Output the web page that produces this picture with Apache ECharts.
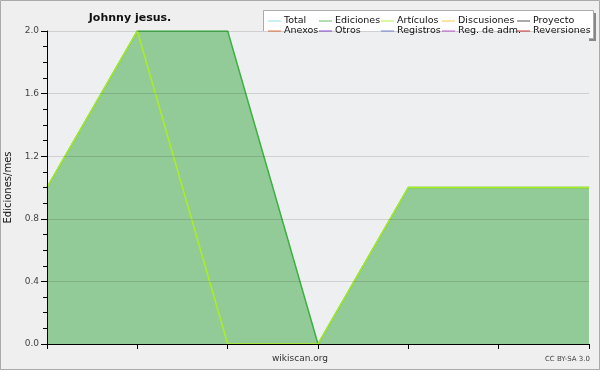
<!DOCTYPE html>
<html><head><meta charset="utf-8">
<script src="https://cdn.jsdelivr.net/npm/echarts@6/dist/echarts.min.js"></script>
<style>html,body{margin:0;padding:0;background:#efefef}#c{width:600px;height:370px}</style>
</head><body><div id="c"></div>
<script>
var categories = ['1','2','3','4','5','6','7'];
var ediciones = [1, 2, 2, 0, 1, 1, 1];
var articulos = [1, 2, 0, 0, 1, 1, 1];
var yTicks = [0, 0.4, 0.8, 1.2, 1.6, 2.0];
var legendNames = ['Total','Ediciones','Artículos','Discusiones','Proyecto','Anexos','Otros','Registros','Reg. de adm.','Reversiones'];
var legendColors = ['#99dddd','#66bb66','#bbee44','#f5cc55','#555555','#ee7744','#8844dd','#7788ee','#cc55dd','#dd3333'];

var F = 'DejaVu Sans';
var series = legendNames.map(function(n,i){
  var s = {name:n, type:'line', data:[], symbol:'none', color:legendColors[i], lineStyle:{width:1}};
  return s;
});
series[1].data = ediciones;
series[1].lineStyle = {width:1.5, color:'#3cb043'};
series[1].areaStyle = {color:'#93cb98', opacity:1};
series[1].z = 2;
series[2].data = articulos;
series[2].lineStyle = {width:1.5, color:'#aaee22'};
series[2].z = 3;

var colX = [268, 319, 381, 442, 517];
var legends = colX.map(function(x,c){
  return {
    orient:'vertical', left:x, top:16, itemGap:0, padding:0,
    icon:'rect', itemWidth:13, itemHeight:1,
    textStyle:{fontFamily:F, fontSize:9.5, color:'#111', padding:[0,0,0,-2], lineHeight:10},
    selectedMode:false,
    data:[legendNames[c], legendNames[c+5]]
  };
});

var chart = echarts.init(document.getElementById('c'), null, {renderer:'canvas'});
chart.setOption({
  backgroundColor:'#efefef',
  animation:false,
  title:{text:'Johnny jesus.', left:125, top:8, textAlign:'center',
    textStyle:{fontFamily:F, fontSize:11, fontWeight:'bold', color:'#111'}},
  legend: legends,
  grid:{left:47, right:11, top:31, bottom:26, show:true, backgroundColor:'#eeeff1', borderWidth:0,
    containLabel:false, outerBoundsMode:'none'},
  xAxis:{type:'category', data:categories, boundaryGap:false,
    axisLine:{lineStyle:{color:'#000', width:1}},
    axisTick:{show:true, length:5, inside:false, lineStyle:{color:'#000'}},
    axisLabel:{show:false}, splitLine:{show:false}, z:5},
  yAxis:{type:'value', min:0, max:2, interval:0.4,
    name:'Ediciones/mes', nameLocation:'middle', nameGap:29,
    nameTextStyle:{fontFamily:F, fontSize:10, color:'#111'},
    axisLine:{show:true, lineStyle:{color:'#000'}},
    axisTick:{show:true, length:6, lineStyle:{color:'#000'}},
    minorTick:{show:true, splitNumber:4, length:4, lineStyle:{color:'#000'}},
    axisLabel:{fontFamily:F, fontSize:9, color:'#444', margin:8,
      formatter:function(v){return v.toFixed(1);}},
    splitLine:{show:true, lineStyle:{color:'rgba(0,0,0,0.13)', width:1}}, z:5},
  series: series,
  graphic:[
    {type:'rect', shape:{x:0.5,y:0.5,width:599,height:369}, style:{fill:null, stroke:'#aaaaaa', lineWidth:1}, silent:true, z:-10},
    {type:'rect', shape:{x:266,y:13,width:330,height:28}, style:{fill:'#888888'}, z:-1, silent:true},
    {type:'rect', shape:{x:263.5,y:10.5,width:330,height:28}, style:{fill:'#ffffff', stroke:'#aaaaaa', lineWidth:1}, z:-1, silent:true},
    {type:'text', left:'center', top:354, style:{text:'wikiscan.org', font:'9px "DejaVu Sans"', fill:'#333'}},
    {type:'text', right:10, top:356, style:{text:'CC BY-SA 3.0', font:'7px "DejaVu Sans"', fill:'#444'}}
  ]
});
</script></body></html>
